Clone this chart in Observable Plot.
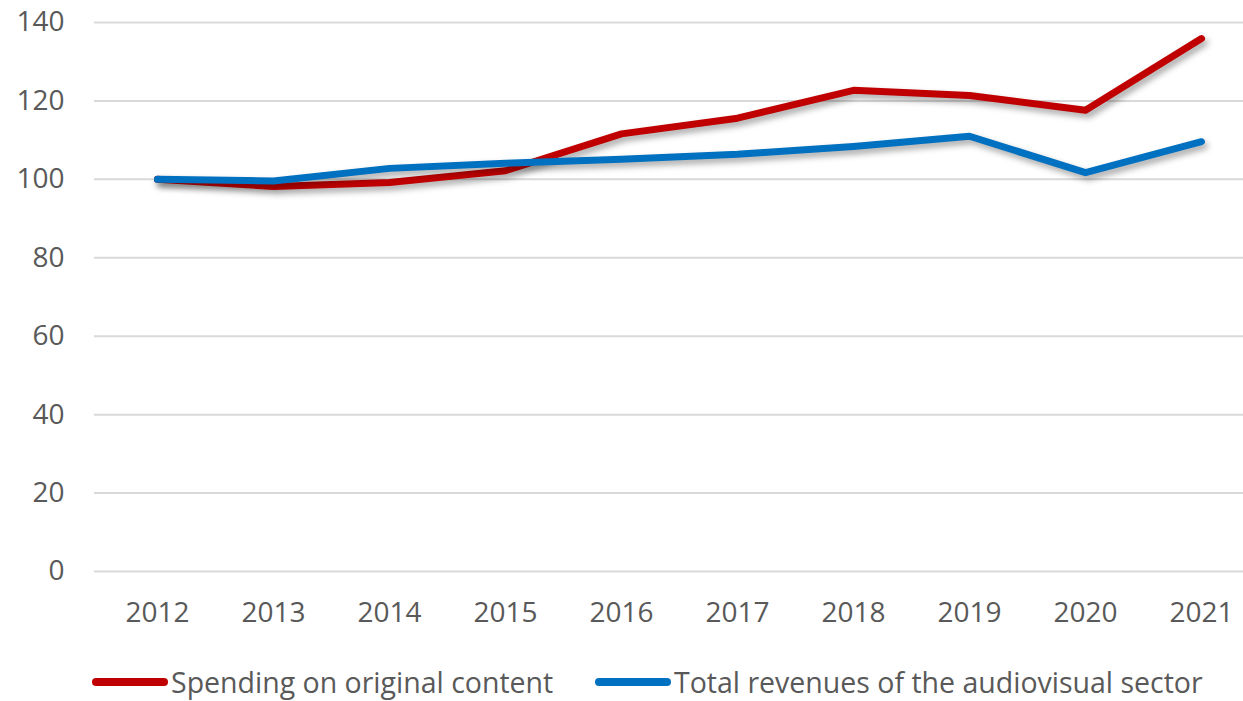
<!DOCTYPE html>
<html>
<head>
<meta charset="utf-8">
<script src="https://cdn.jsdelivr.net/npm/d3@7"></script>
<script src="https://cdn.jsdelivr.net/npm/@observablehq/plot@0.6"></script>
<style>
  html, body { margin: 0; padding: 0; background: #fff; }
  body { width: 1243px; height: 701px; overflow: hidden; font-family: "Open Sans", sans-serif; }
  #chart svg { display: block; }
  #chart g[aria-label="line"] path { filter: drop-shadow(3px 4px 3px rgba(0,0,0,0.35)); }
  #legend { position: relative; height: 30px; margin-top: 27px; color: #595959; font-size: 28.5px; line-height: 30px; }
  .item { position: absolute; top: 0; display: flex; align-items: center; height: 30px; white-space: nowrap; }
  .swatch { width: 76px; height: 8px; border-radius: 4px; margin-right: 3px; }
</style>
</head>
<body>
<div id="chart"></div>
<div id="legend"></div>
<script>
const years = [2012, 2013, 2014, 2015, 2016, 2017, 2018, 2019, 2020, 2021];
const spending = [100, 98.2, 99.2, 102.2, 111.6, 115.6, 122.7, 121.4, 117.6, 135.9];
const revenues = [100, 99.6, 102.8, 104.1, 105.1, 106.4, 108.4, 111.0, 101.7, 109.6];
const seriesNames = ["Spending on original content", "Total revenues of the audiovisual sector"];
const seriesColors = ["#C00000", "#0070C0"];
const yTicks = [0, 20, 40, 60, 80, 100, 120, 140];

const data = [];
years.forEach((yr, i) => {
  data.push({year: yr, value: spending[i], series: seriesNames[0]});
  data.push({year: yr, value: revenues[i], series: seriesNames[1]});
});

const chart = Plot.plot({
  width: 1243,
  height: 640,
  marginLeft: 94,
  marginRight: 0,
  marginTop: 22,
  marginBottom: 69,
  style: {fontFamily: "Open Sans, sans-serif", fontSize: "28px", color: "#595959", background: "#fff"},
  x: {type: "point", domain: years, range: [153, 1205], padding: 0, label: null},
  y: {domain: [0, 140], label: null},
  color: {domain: seriesNames, range: seriesColors},
  marks: [
    Plot.ruleY(yTicks, {stroke: "#D9D9D9", strokeWidth: 2}),
    Plot.axisY({ticks: yTicks, tickSize: 0, tickPadding: 30, label: null, fill: "#595959"}),
    Plot.axisX({tickSize: 0, tickPadding: 31, label: null, tickFormat: d => String(d), fill: "#595959"}),
    Plot.line(data, {x: "year", y: "value", z: "series", stroke: "series", strokeWidth: 7, strokeLinecap: "round", strokeLinejoin: "round"})
  ]
});
document.getElementById("chart").appendChild(chart);

const legend = document.getElementById("legend");
const lefts = [92, 595];
seriesNames.forEach((name, i) => {
  const item = document.createElement("div");
  item.className = "item";
  item.style.left = lefts[i] + "px";
  const sw = document.createElement("div");
  sw.className = "swatch";
  sw.style.background = seriesColors[i];
  const tx = document.createElement("span");
  tx.textContent = name;
  item.appendChild(sw);
  item.appendChild(tx);
  legend.appendChild(item);
});
</script>
</body>
</html>
